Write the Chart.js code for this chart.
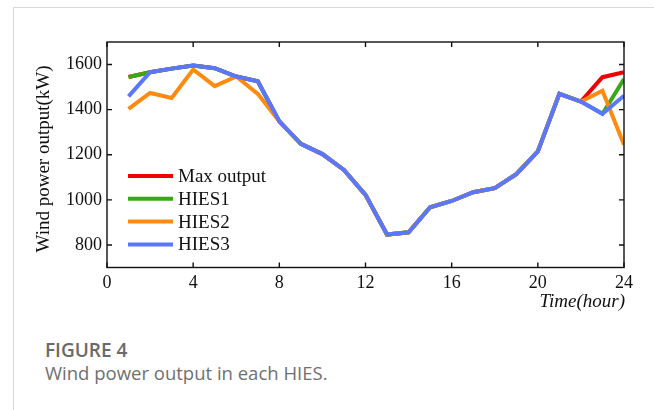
<!DOCTYPE html>
<html>
<head>
<meta charset="utf-8">
<script src="https://cdn.jsdelivr.net/npm/chart.js@4.4.1/dist/chart.umd.min.js"></script>
<style>
  html, body { margin: 0; padding: 0; background: #fff; }
  body { width: 654px; height: 410px; position: relative; overflow: hidden; }
  #frame { position: absolute; left: 13px; top: 7px; width: 700px; height: 420px;
           border-left: 1px solid #d9d9d9; border-top: 1px solid #d9d9d9; }
  #wrap { position: absolute; left: 0; top: 0; width: 654px; height: 320px; }
  #fig { position: absolute; left: 45px; top: 337px; font-family: "Open Sans", sans-serif;
         font-size: 19px; font-weight: 600; color: #6a6a6a; }
  #cap { position: absolute; left: 45px; top: 360px; font-family: "Open Sans", sans-serif;
         font-size: 18.5px; color: #707070; }
</style>
</head>
<body>
<div id="frame"></div>
<div id="wrap"><canvas id="c" width="654" height="320"></canvas></div>
<div id="fig">FIGURE 4</div>
<div id="cap">Wind power output in each HIES.</div>
<script>
const hours = [1,2,3,4,5,6,7,8,9,10,11,12,13,14,15,16,17,18,19,20,21,22,23,24];
const maxOutput = [1545,1566,1582,1596,1584,1547,1526,1348,1248,1203,1133,1022,846,856,967,995,1034,1052,1114,1215,1470,1436,1544,1566];
const hies1 = [1545,1566,1582,1596,1584,1547,1526,1348,1248,1203,1133,1022,846,856,967,995,1034,1052,1114,1215,1470,1436,1382,1536];
const hies2 = [1403,1474,1452,1578,1504,1547,1470,1348,1248,1203,1133,1022,846,856,967,995,1034,1052,1114,1215,1470,1436,1484,1244];
const hies3 = [1459,1566,1582,1596,1584,1547,1526,1348,1248,1203,1133,1022,846,856,967,995,1034,1052,1114,1215,1470,1436,1382,1462];
const seriesNames = ["Max output", "HIES1", "HIES2", "HIES3"];
const seriesColors = ["#f00000", "#3aa815", "#ff8a10", "#5a78ff"];
const xTicks = [0,4,8,12,16,20,24];
const yTicks = [800,1000,1200,1400,1600];
const xTitle = "Time(hour)";
const yTitle = "Wind power output(kW)";

const serif = "'Liberation Serif', 'Times New Roman', serif";
const allSeries = [maxOutput, hies1, hies2, hies3];

const datasets = allSeries.map((vals, i) => ({
  label: seriesNames[i],
  data: hours.map((h, j) => ({x: h, y: vals[j]})),
  borderColor: seriesColors[i],
  backgroundColor: seriesColors[i],
  borderWidth: 4,
  pointRadius: 0,
  tension: 0,
  fill: false,
  order: 3 - i
}));

const decor = {
  id: 'decor',
  afterDatasetsDraw(chart) {
    const ctx = chart.ctx;
    const a = chart.chartArea;
    const xs = chart.scales.x, ys = chart.scales.y;
    ctx.save();
    ctx.strokeStyle = '#111';
    ctx.lineWidth = 1.4;
    ctx.strokeRect(a.left, a.top, a.right - a.left, a.bottom - a.top);
    const tl = 5;
    ctx.beginPath();
    xTicks.forEach(v => {
      const px = xs.getPixelForValue(v);
      ctx.moveTo(px, a.bottom); ctx.lineTo(px, a.bottom - tl);
      ctx.moveTo(px, a.top); ctx.lineTo(px, a.top + tl);
    });
    yTicks.forEach(v => {
      const py = ys.getPixelForValue(v);
      ctx.moveTo(a.left, py); ctx.lineTo(a.left + tl, py);
      ctx.moveTo(a.right, py); ctx.lineTo(a.right - tl, py);
    });
    ctx.stroke();

    // legend inside plot
    ctx.font = "19px " + serif;
    ctx.textBaseline = 'middle';
    ctx.textAlign = 'left';
    const lx = a.left + 21, ly = 176, gap = 22.8;
    seriesNames.forEach((n, i) => {
      const y = ly + i * gap;
      ctx.strokeStyle = seriesColors[i];
      ctx.lineWidth = 4;
      ctx.beginPath();
      ctx.moveTo(lx, y); ctx.lineTo(lx + 45, y);
      ctx.stroke();
      ctx.fillStyle = '#111';
      ctx.fillText(n, lx + 50, y + 1);
    });

    // axis titles
    ctx.font = "italic 19px " + serif;
    ctx.textAlign = 'right';
    ctx.fillText(xTitle, a.right + 1, 302);
    ctx.font = "19px " + serif;
    ctx.textAlign = 'center';
    ctx.translate(44, 159);
    ctx.rotate(-Math.PI / 2);
    ctx.fillText(yTitle, 0, 0);
    ctx.restore();
  }
};

new Chart(document.getElementById('c'), {
  type: 'line',
  data: { datasets },
  options: {
    responsive: false,
    animation: false,
    events: [],
    layout: { padding: { left: 0, top: 42, right: 30, bottom: 0 } },
    plugins: { legend: { display: false }, tooltip: { enabled: false } },
    scales: {
      x: {
        type: 'linear', min: 0, max: 24,
        grid: { display: false, drawTicks: false },
        border: { display: false },
        afterBuildTicks: s => { s.ticks = xTicks.map(v => ({value: v})); },
        afterFit: s => { s.height = 320 - 267.5; },
        ticks: { padding: 5, color: '#111', font: { family: serif, size: 18 }, maxRotation: 0,
                 callback: v => String(v) }
      },
      y: {
        type: 'linear', min: 700, max: 1700,
        grid: { display: false, drawTicks: false },
        border: { display: false },
        afterBuildTicks: s => { s.ticks = yTicks.map(v => ({value: v})); },
        afterFit: s => { s.width = 107; },
        ticks: { padding: 5, color: '#111', font: { family: serif, size: 18 },
                 callback: v => String(v) }
      }
    }
  },
  plugins: [decor]
});
</script>
</body>
</html>
